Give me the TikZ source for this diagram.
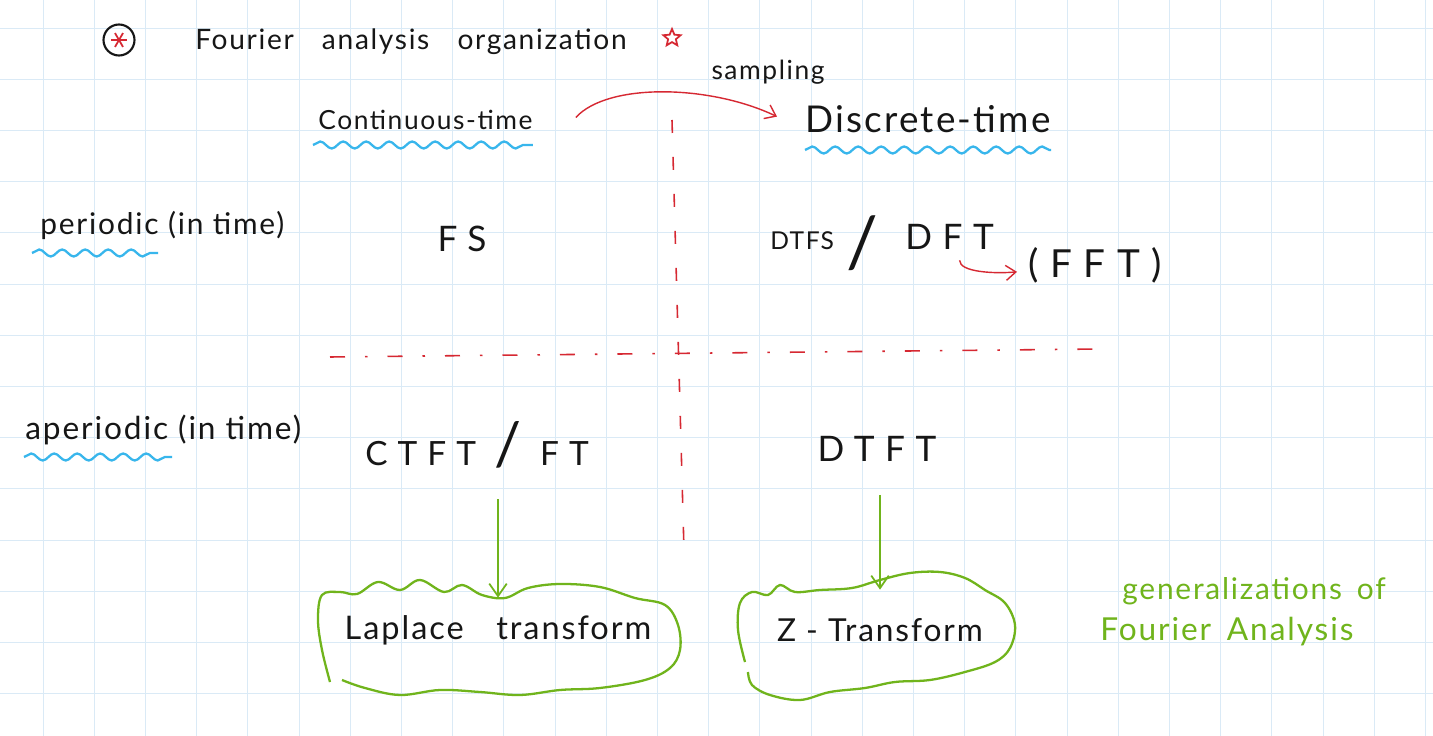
\documentclass[tikz,border=0pt]{standalone}
\usepackage{fontspec}
\setmainfont{Lato}
\newfontfamily\hand[LetterSpace=6]{Lato}
\newfontfamily\handwide[LetterSpace=30]{Lato}
\usetikzlibrary{arrows.meta, calc, decorations.pathmorphing, shapes.geometric}
\definecolor{gridblue}{RGB}{218,234,246}
\definecolor{inkred}{RGB}{214,40,50}
\definecolor{inkblue}{RGB}{56,182,236}
\definecolor{inkgreen}{RGB}{112,180,28}
\definecolor{ink}{RGB}{22,22,22}

\begin{document}
\begin{tikzpicture}[x=0.2mm, y=-0.2mm,
    hw/.style={text=ink, inner sep=0pt, font=\hand\fontsize{#1}{#1}\selectfont},
    hw/.default=17,
    hwide/.style={text=ink, inner sep=0pt, font=\handwide\fontsize{#1}{#1}\selectfont},
    wave/.style={inkblue, line width=1.3pt, decorate,
                 decoration={snake, amplitude=0.7mm, segment length=4.6mm}},
    rarr/.style={inkred, line width=0.8pt, -{Straight Barb[length=2mm,width=3mm]}},
    garr/.style={inkgreen, line width=1pt, -{Straight Barb[length=2.5mm,width=3.5mm]}},
    blob/.style={inkgreen, line width=1.3pt},
    cross/.style={inkred, line width=0.9pt},
    ]
    % paper
    \fill[white] (0,0) rectangle (1433,736);
    \useasboundingbox (0,0) rectangle (1433,736);
    \foreach \gx in {0,...,27}
      \draw[gridblue, line width=0.5pt] ({43+51.2*\gx},0) -- ({43+51.2*\gx},736);
    \foreach \gy in {0,...,13}
      \draw[gridblue, line width=0.5pt] (0,{28+51.2*\gy}) -- (1433,{28+51.2*\gy});

    % title
    \node[circle, draw=ink, line width=1.2pt, minimum size=6.2mm, inner sep=0pt] (bullet) at (119,40) {};
    \foreach \a in {0,60,120}
      \draw[inkred, line width=1pt] ($(bullet.center)+(\a:8)$) -- ($(bullet.center)+(\a+180:8)$);
    \node[hw=16, anchor=base west] (title) at (195,50) {Fourier\quad analysis\quad organization};
    \node[star, star points=5, star point ratio=2.2, draw=inkred, line width=1pt,
          minimum size=3.6mm, inner sep=0pt] (tstar) at (672,38) {};

    % column heads
    \node[hw=15, anchor=base west] (cont) at (318,130) {Continuous-time};
    \node[hw=21, anchor=base west] (disc) at (805,133) {Discrete-time};
    \node[hw=15, anchor=base] (samp) at (768,80) {sampling};
    \draw[rarr] ($(cont.east)+(43,-3)$) .. controls +(32,-35) and +(-67,-32) .. ($(disc.west)+(-28,-3)$);
    \draw[wave] ($(cont.base west)+(-5,15)$) -- ($(cont.base east)+(0,15)$);
    \draw[wave] ($(disc.base west)+(0,17)$) -- ($(disc.base east)+(0,17)$);

    % row heads
    \node[hw=17, anchor=base west] (per) at (40,235) {periodic (in time)};
    \node[hw=18, anchor=base west] (aper) at (25,440) {aperiodic (in time)};
    \draw[wave] ($(per.base west)+(-8,18)$) -- ++(126,0);
    \draw[wave] ($(aper.base west)+(-1,17)$) -- ++(148,0);

    % quadrant dividers
    \draw[cross, dash pattern=on 2.6mm off 4.8mm] (672,120) -- (684,550);
    \draw[cross, dash pattern=on 3mm off 4mm on 0.5mm off 4mm] (330,357) -- (1100,349);

    % periodic row
    \node[hwide=20, anchor=base] (fs) at (462,252) {FS};
    \node[hw=14, anchor=base west] (dtfs) at (770,250) {DTFS};
    \node[hw=40, anchor=base] (slash) at (862,268) {/};
    \node[hwide=20, anchor=base west] (dft) at (905,250) {DFT};
    \node[hwide=22, anchor=base west] (fft) at (1028,278) {(FFT)};
    \draw[rarr] ($(dft.south)+(10,10)$) .. controls +(0,12) and +(-22,2) .. ($(fft.west)+(-11,6)$);

    % aperiodic row
    \node[hwide=19, anchor=base west] (ctft) at (365,466) {CTFT {\fontsize{34}{34}\selectfont/} FT};
    \node[hwide=20, anchor=base] (dtft) at (877,462) {DTFT};

    % generalizations
    \node[hw=18.5, minimum height=12.8mm] (laplace) at (498,630) {Laplace\quad transform};
    \node[hw=18, minimum height=16mm] (ztr) at (880,630) {Z - Transform};
    \draw[blob] plot[smooth, tension=0.6] coordinates {(330,682) (322,650) (318,620) (322,595)
      (340,592) (357,594) (378,582) (400,590) (420,580) (444,592) (462,585) (482,595) (505,598)
      (528,588) (560,584) (600,587) (635,598) (665,605) (678,625) (680,650) (670,668) (645,680)
      (600,688) (560,690) (520,695) (480,692) (440,690) (400,695) (365,688) (342,680)};
    \draw[blob] plot[smooth, tension=0.6] coordinates {(745,662) (738,630) (740,603) (752,592)
      (768,595) (780,585) (795,592) (820,590) (852,588) (880,580) (910,573) (940,572) (965,578)
      (985,590) (1005,603) (1015,625) (1010,648) (995,662) (965,672) (930,680) (895,682)
      (865,688) (830,692) (800,700) (770,695) (752,685) (748,672)};
    \draw[garr, shorten <=6mm] (laplace.north |- ctft.south) -- (laplace.north);
    \draw[garr, shorten <=6.5mm] (ztr.north |- dtft.south) -- (ztr.north);

    \node[hw=17, text=inkgreen, anchor=base west] (gen) at (1122,600) {generalizations\enspace of};
    \node[hw=18, text=inkgreen, anchor=base west] (fa) at (1100,640) {Fourier\enspace Analysis};
  \end{tikzpicture}
\end{document}
